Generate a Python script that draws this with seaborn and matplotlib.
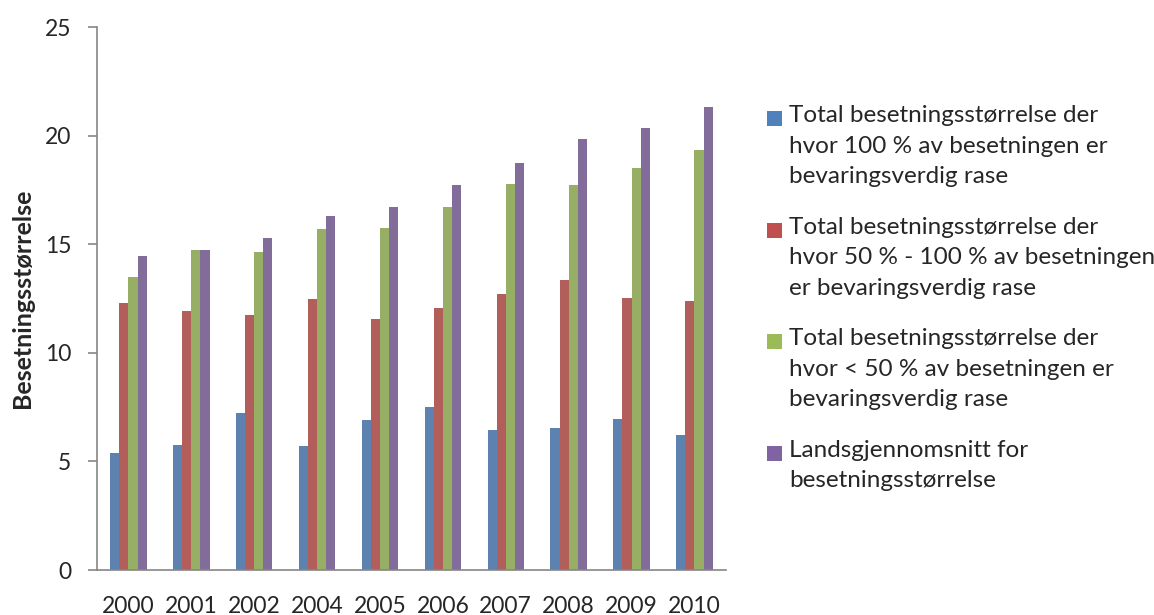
import pandas as pd
import numpy as np
import matplotlib
matplotlib.use('Agg')
import matplotlib.pyplot as plt
import seaborn as sns
from matplotlib.patches import Patch, Rectangle
from matplotlib.legend_handler import HandlerPatch

years = ['2000', '2001', '2002', '2004', '2005', '2006', '2007', '2008', '2009', '2010']
full_100 = [5.37, 5.75, 7.24, 5.71, 6.91, 7.49, 6.43, 6.52, 6.95, 6.23]
half_to_full = [12.29, 11.92, 11.73, 12.48, 11.56, 12.05, 12.71, 13.35, 12.52, 12.37]
below_50 = [13.49, 14.73, 14.63, 15.70, 15.75, 16.70, 17.77, 17.73, 18.51, 19.34]
national_avg = [14.44, 14.73, 15.29, 16.30, 16.70, 17.73, 18.72, 19.83, 20.35, 21.30]

series_names = [
    'Total besetningsstørrelse der\nhvor 100 % av besetningen er\nbevaringsverdig rase',
    'Total besetningsstørrelse der\nhvor 50 % - 100 % av besetningen\ner bevaringsverdig rase',
    'Total besetningsstørrelse der\nhvor < 50 % av besetningen er\nbevaringsverdig rase',
    'Landsgjennomsnitt for\nbesetningsstørrelse',
]
colors = ['#4F81BD', '#C0504D', '#9BBB59', '#8064A2']

rows = []
for name, vals in zip(series_names, [full_100, half_to_full, below_50, national_avg]):
    for y, v in zip(years, vals):
        rows.append({'year': y, 'series': name, 'value': v})
df = pd.DataFrame(rows)


# square legend marker sitting next to the first text line
class TopSquare(HandlerPatch):
    def create_artists(self, legend, orig_handle, xdescent, ydescent,
                       width, height, fontsize, trans):
        off = 0.25 * fontsize
        p = Rectangle((-xdescent, height - ydescent - width - off), width, width,
                      facecolor=orig_handle.get_facecolor(), edgecolor='none',
                      transform=trans)
        return [p]


sns.set_style('white')
plt.rcParams['font.family'] = ['Lato', 'DejaVu Sans']

fig = plt.figure(figsize=(11.54, 6.15), dpi=100)
ax = fig.add_axes([0.084, 0.073, 0.545, 0.883])

sns.barplot(data=df, x='year', y='value', hue='series', order=years,
            hue_order=series_names, palette=colors, width=0.58,
            edgecolor='none', linewidth=0, ax=ax, legend=False)

ax.set_ylim(0, 25)
ax.set_yticks([0, 5, 10, 15, 20, 25])
ax.set_xlim(-0.5, len(years) - 0.5)
ax.set_xlabel('')
ax.set_ylabel('Besetningsstørrelse', fontsize=18, fontweight='bold', labelpad=8)
for s in ['top', 'right']:
    ax.spines[s].set_visible(False)
for s in ['left', 'bottom']:
    ax.spines[s].set_color('#868686')
    ax.spines[s].set_linewidth(1.2)
ax.tick_params(axis='y', which='both', left=True, length=6.5, width=1.2,
               color='#868686', labelsize=16.5, pad=12)
ax.tick_params(axis='x', bottom=False, labelsize=16.5, pad=15)

handles = [Patch(facecolor=c, edgecolor='none') for c in colors]
leg = fig.legend(handles, series_names, loc='upper left',
                 bbox_to_anchor=(767 / 1154, 1 - 105 / 615), frameon=False,
                 fontsize=17.5, handlelength=0.62, handleheight=1.0,
                 handletextpad=0.29, labelspacing=1.2, borderpad=0,
                 borderaxespad=0, handler_map={Patch: TopSquare()})
for t in leg.get_texts():
    t.set_linespacing(1.57)
for col in leg._legend_handle_box.get_children():
    for row in col.get_children():
        row.align = 'top'

fig.savefig('out.png', dpi=100)
